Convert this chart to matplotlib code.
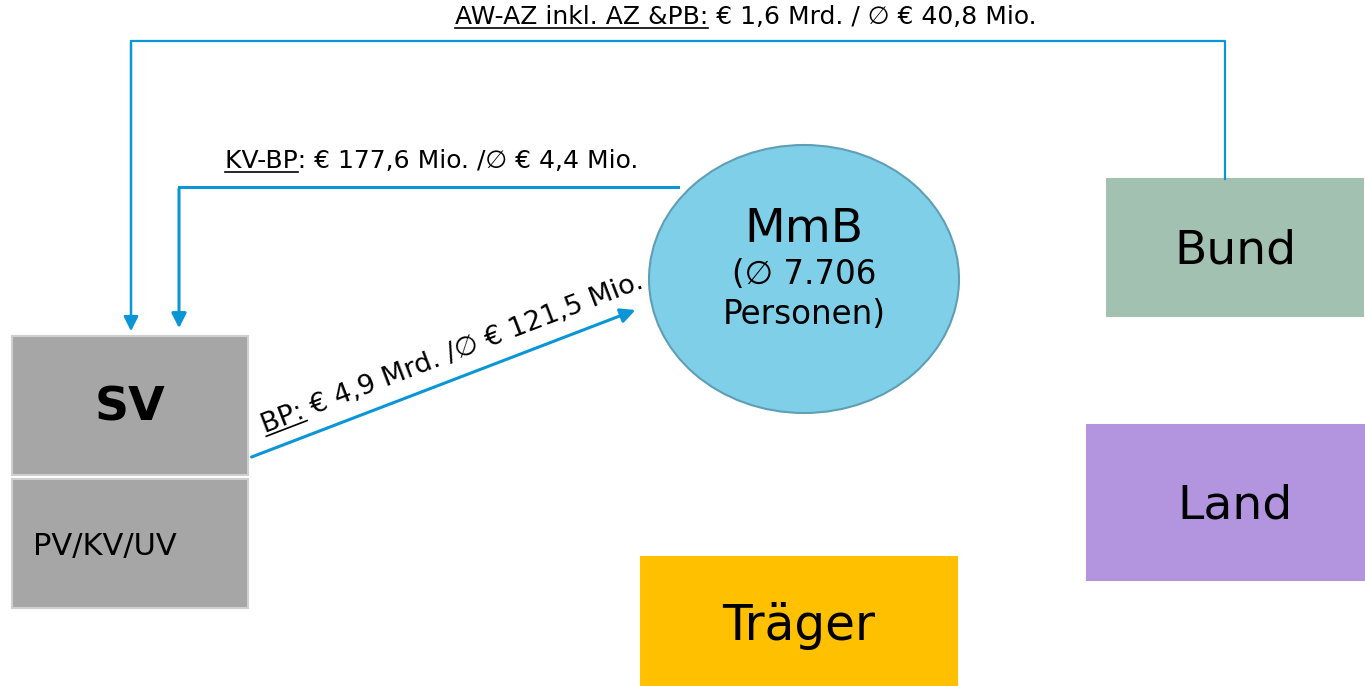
import math
import matplotlib
matplotlib.use("Agg")
import matplotlib.pyplot as plt
from matplotlib.patches import Rectangle, Ellipse

W, H = 1365, 686

# node labels
box_names = ["SV", "PV/KV/UV", "Bund", "Land", "Träger"]
box_colors = ["#a6a6a6", "#a6a6a6", "#a3c1b0", "#b294df", "#ffc000"]
mmb_name = "MmB"
mmb_persons = "7.706"

# flows: underlined key + rest of label
flow_keys = ["AW-AZ inkl. AZ &PB:", "KV-BP", "BP:"]
flow_rest = [" € 1,6 Mrd. / ∅ € 40,8 Mio.",
             ": € 177,6 Mio. /∅ € 4,4 Mio.",
             " € 4,9 Mrd. /∅ € 121,5 Mio."]

blue = "#0a96d6"

fig = plt.figure(figsize=(W / 100, H / 100), dpi=100)
ax = fig.add_axes([0, 0, 1, 1])
ax.set_xlim(0, W)
ax.set_ylim(H, 0)
ax.axis("off")

# boxes (x, y, w, h) in pixel space, y down
box_geo = [(12, 336, 236, 139), (12, 479, 236, 129), (1107, 179, 256, 137),
           (1087, 425, 278, 155), (641, 557, 316, 129)]
for (x, y, w, h), c in zip(box_geo, box_colors):
    ec = "#cfcfcf" if c == "#a6a6a6" else c
    ax.add_patch(Rectangle((x, y), w, h, fc=c, ec=ec, lw=1.5))

ax.text(130, 408, box_names[0], fontsize=34, fontweight="bold", ha="center", va="center")
ax.text(33, 546, box_names[1], fontsize=22, ha="left", va="center")
ax.text(1235, 251, box_names[2], fontsize=34, ha="center", va="center")
ax.text(1235, 506, box_names[3], fontsize=34, ha="center", va="center")
ax.text(799, 626, box_names[4], fontsize=35, ha="center", va="center")

ax.add_patch(Ellipse((804, 279), 310, 268, fc="#7fcfe8", ec="#5f9fb5", lw=1.5))
ax.text(804, 229, mmb_name, fontsize=34, ha="center", va="center")
ax.text(804, 274, "(∅ " + mmb_persons, fontsize=23.5, ha="center", va="center")
ax.text(804, 314, "Personen)", fontsize=23.5, ha="center", va="center")

# connectors
ax.plot([1225, 1225, 131], [179, 41, 41], color=blue, lw=1.6)
ax.annotate("", xy=(131, 334), xytext=(131, 40),
            arrowprops=dict(arrowstyle="-|>", color=blue, lw=1.8, mutation_scale=22))
ax.plot([678, 179], [187, 187], color=blue, lw=2.2)
ax.annotate("", xy=(179, 331), xytext=(179, 186),
            arrowprops=dict(arrowstyle="-|>", color=blue, lw=2.2, mutation_scale=22))
ax.annotate("", xy=(638, 309), xytext=(249, 458),
            arrowprops=dict(arrowstyle="-|>", color=blue, lw=2.2, mutation_scale=22))

renderer = fig.canvas.get_renderer()


def flow_label(x, y, key, rest, size, rot=0):
    ax.text(x, y, key + rest, fontsize=size, rotation=rot, rotation_mode="anchor",
            ha="left", va="baseline")
    tmp = ax.text(0, 0, key, fontsize=size)
    w = tmp.get_window_extent(renderer).width
    tmp.remove()
    a = math.radians(rot)
    off = 3.5
    x0 = x + off * math.sin(a)
    y0 = y + off * math.cos(a)
    ax.plot([x0, x0 + w * math.cos(a)], [y0, y0 - w * math.sin(a)], color="black", lw=1.2)


flow_label(455, 24, flow_keys[0], flow_rest[0], 18)
flow_label(225, 168, flow_keys[1], flow_rest[1], 18)
flow_label(265, 433, flow_keys[2], flow_rest[2], 19.5, rot=21)

fig.savefig("out.png", dpi=100)
